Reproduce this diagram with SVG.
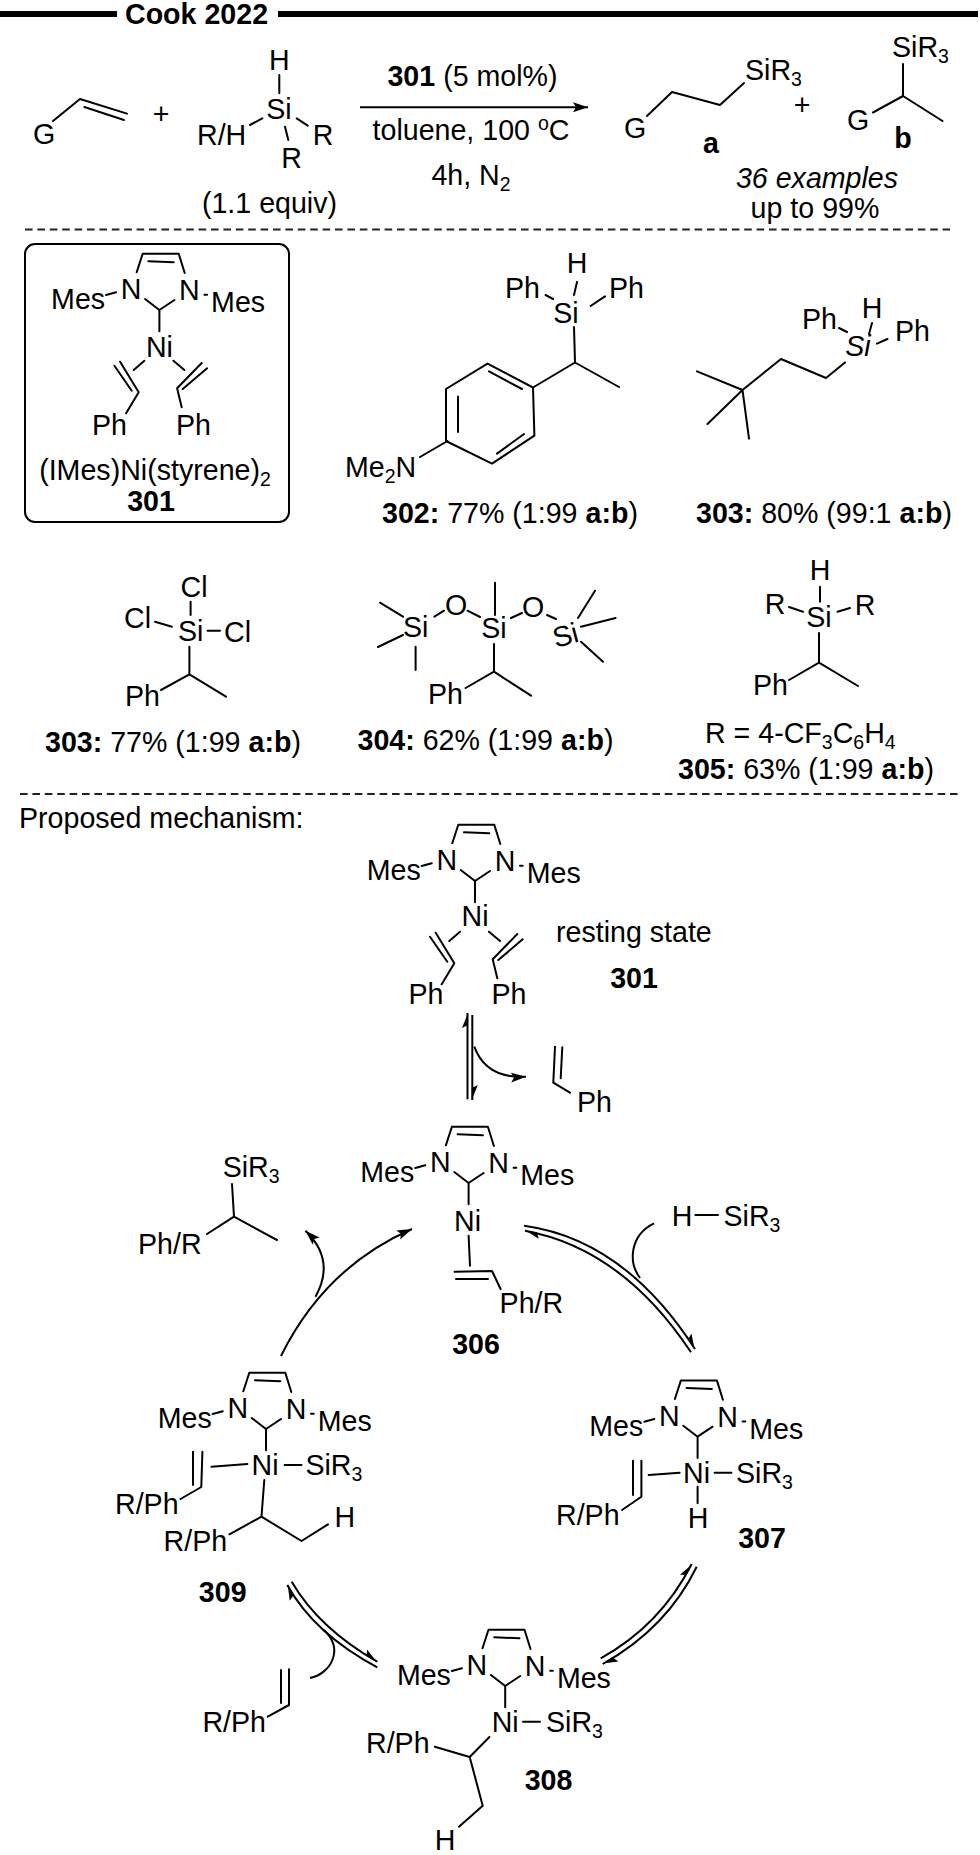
<svg xmlns="http://www.w3.org/2000/svg" width="980" height="1855" viewBox="0 0 980 1855">
<style>
text{font-family:"Liberation Sans",Arial,sans-serif;font-size:28.6px;fill:#000}
.b{font-weight:bold}
.i{font-style:italic}
.m{text-anchor:middle}
.s{font-size:19.5px}
.bond{fill:none;stroke:#000;stroke-width:2;stroke-linecap:round;stroke-linejoin:round}
.rule{stroke:#000;stroke-width:6;fill:none}
.dash{stroke:#222;stroke-width:1.8;stroke-dasharray:7.6 4.8;fill:none}
.arr{fill:none;stroke:#000;stroke-width:2}
</style>
<defs>
<path id="nhc" class="bond" d="M-22.7,-37.7L-16.7,-56.3H19.3L25.3,-37M-11,-48.7L14.3,-47.7M-14.3,-11L0,0L15,-10M0,0V21.3M-53.3,-15L-43.3,-17.7M45,-15.3H47.7"/>
<path id="bis" class="bond" d="M-15,50.7L-25.7,60M-39.3,51.7L-20.7,82.3L-33.3,103.3M-45,55.7L-27.7,80.7M14,50.7L25,60M42.3,53L17.7,78.3L22.3,97.3M47.7,58.3L23.3,79"/>
<marker id="full" markerUnits="userSpaceOnUse" markerWidth="16" markerHeight="14" refX="15" refY="7" orient="auto"><path d="M0,2L15,7L0,12L3,7z"/></marker>
<marker id="half" markerUnits="userSpaceOnUse" markerWidth="16" markerHeight="14" refX="15" refY="7" orient="auto"><path d="M0,1.5L15,7.5H3z"/></marker>
</defs>

<g id="header">
<path class="rule" d="M0,14H117M278,14H978"/>
<text class="b" x="125" y="24">Cook 2022</text>
</g>

<g id="reaction">
<g id="alkene"><path class="bond" d="M53,121L80,99L127,113.6M84.4,107L124,120"/><text class="m" x="44" y="144">G</text></g>
<text id="plus1" class="m" x="161" y="124">+</text>
<g id="silane">
<path class="bond" d="M279.3,75V93.3M250,125L262.3,118.3M296.7,118.3L307.7,125.7M285,126.7L288.3,140"/>
<text class="m" x="279.3" y="70">H</text><text class="m" x="279" y="119">Si</text>
<text x="197" y="145">R/H</text><text class="m" x="323" y="145">R</text><text class="m" x="291.7" y="168">R</text>
<text class="m" x="269.5" y="213">(1.1 equiv)</text>
</g>
<g id="conditions">
<text class="m" x="472.5" y="86"><tspan class="b">301</tspan> (5 mol%)</text>
<text class="m" x="471" y="140">toluene, 100 <tspan class="s" dy="-10">o</tspan><tspan dy="10">C</tspan></text>
<text class="m" x="471" y="185">4h, N<tspan class="s" dy="6">2</tspan></text>
</g>
<g id="product-a"><path class="bond" d="M647,116L672,92L720,105L744,83"/><text class="m" x="635" y="138">G</text>
<text x="745" y="80">SiR<tspan class="s" dy="6">3</tspan></text><text class="b m" x="711" y="153">a</text></g>
<text id="plus2" class="m" x="802" y="115">+</text>
<g id="product-b"><path class="bond" d="M903,64V96M873,112.5L903,96L942.5,121"/><text x="892" y="57">SiR<tspan class="s" dy="6">3</tspan></text>
<text class="m" x="858" y="130">G</text><text class="b m" x="903" y="148">b</text></g>
<text class="i m" x="817" y="188">36 examples</text>
<text class="m" x="815" y="218">up to 99%</text>
</g>

<path id="sep1" class="dash" d="M25,229.5H950"/>

<g id="node-301-box">
<rect x="25" y="244" width="264" height="278" rx="10" fill="none" stroke="#000" stroke-width="2"/>
<g transform="translate(159.4,310)">
<use href="#nhc"/><use href="#bis"/>
<text class="m" x="-28.3" y="-11">N</text><text class="m" x="30" y="-10">N</text><text x="-108.3" y="-1">Mes</text><text x="51.7" y="2">Mes</text>
<text class="m" x="0" y="47">Ni</text><text class="m" x="-50" y="125">Ph</text><text class="m" x="34" y="125">Ph</text>
</g>
<text class="m" x="155" y="480">(IMes)Ni(styrene)<tspan class="s" dy="6">2</tspan></text>
<text class="b m" x="151" y="511">301</text>
</g>

<g id="node-302">
<path class="bond" d="M577,282L574,295M545.6,295L553,299M590.6,306L605,296.4M574,327L575,362.5L619,387M575,362.5L533,387.5L487.5,363.6L446,389V441L492,463.6L534.4,435.7L533,387.5M489,371.4L522,389M458,396.4V432M497,453.6L524,434M447.5,441L420,457"/>
<text class="m" x="577" y="273">H</text><text x="505" y="298">Ph</text><text x="609" y="298">Ph</text><text class="m" x="566" y="323">Si</text>
<text x="345" y="477">Me<tspan class="s" dy="6">2</tspan><tspan dy="-6">N</tspan></text>
<text x="382" y="523"><tspan class="b">302:</tspan> 77% (1:99 <tspan class="b">a:b</tspan>)</text>
</g>

<g id="node-303a">
<path class="bond" d="M872,323L869,334M839,328L847,332M877,343.6L887.5,339M845,362.5L826,378L781,359L742.5,390M697,371.4L742.5,390L707.5,424M742.5,390L749,438.6"/>
<text class="m" x="872" y="318">H</text><text x="802" y="329">Ph</text><text x="895" y="341">Ph</text><text class="i m" x="858" y="356">Si</text>
<text x="696" y="523"><tspan class="b">303:</tspan> 80% (99:1 <tspan class="b">a:b</tspan>)</text>
</g>

<g id="node-303b">
<path class="bond" d="M190.6,601.7V615M155,621.7L172,626.7M207.5,630.7H220M189.4,646.7V674.3L226,696.7M189.4,674.3L161,690"/>
<text class="m" x="194" y="597">Cl</text><text x="124" y="628">Cl</text><text class="m" x="190.6" y="641">Si</text><text x="224" y="642">Cl</text><text x="125" y="706">Ph</text>
<text x="45" y="752"><tspan class="b">303:</tspan> 77% (1:99 <tspan class="b">a:b</tspan>)</text>
</g>

<g id="node-304">
<path class="bond" d="M380,602.7L403,616.7M378,647L403,635M415.6,646.7V670M434.4,616.7L444,610.7M467.5,610.7L480,617M495,582.7V615M511,618L522,613M547,615L556,619M595,590.7L578,618M615.6,618L581,626.7M603,661.7L581,641.7M494,644V671.7L531,695.7M494,671.7L465.6,688"/>
<text class="m" x="415.6" y="637">Si</text><text class="m" x="494" y="638">Si</text><text class="m" transform="rotate(-15 565.6 636)" x="565.6" y="645">Si</text>
<text class="m" x="456" y="615">O</text><text class="m" x="533" y="617">O</text><text x="428" y="704">Ph</text>
<text x="357.5" y="750"><tspan class="b">304:</tspan> 62% (1:99 <tspan class="b">a:b</tspan>)</text>
</g>

<g id="node-305">
<path class="bond" d="M820,586.7V601.7M789,607L803,611.7M837.5,611.7L850,608M819,633V662.7L858,686M819,662.7L789,680"/>
<text class="m" x="820" y="580">H</text><text class="m" x="775" y="614">R</text><text class="m" x="819" y="627">Si</text><text class="m" x="865" y="615">R</text><text x="753" y="695">Ph</text>
<text x="705" y="743">R = 4-CF<tspan class="s" dy="6">3</tspan><tspan dy="-6">C</tspan><tspan class="s" dy="6">6</tspan><tspan dy="-6">H</tspan><tspan class="s" dy="6">4</tspan></text>
<text x="678" y="779"><tspan class="b">305:</tspan> 63% (1:99 <tspan class="b">a:b</tspan>)</text>
</g>

<path id="sep2" class="dash" d="M20,794H960"/>
<text id="mech-title" x="19" y="828">Proposed mechanism:</text>

<g id="node-301" transform="translate(475,881)">
<use href="#nhc"/><use href="#bis"/>
<text class="m" x="-28.3" y="-11">N</text><text class="m" x="30" y="-10">N</text><text x="-108.3" y="-1">Mes</text><text x="51.7" y="2">Mes</text>
<text class="m" x="0" y="45">Ni</text><text class="m" x="-49" y="123">Ph</text><text class="m" x="34" y="123">Ph</text>
<text x="81" y="61">resting state</text>
<text class="b m" x="159" y="107">301</text>
</g>

<g id="styrene-out"><path class="bond" d="M562.3,1047.3L560.7,1078.3M555,1046.7L553.3,1082.7L570,1092.7"/><text x="577" y="1112">Ph</text></g>

<g id="node-306" transform="translate(468.6,1183)">
<use href="#nhc"/>
<path class="bond" d="M0,52.7L1.4,82.7M-14,88.7L23.4,88L32,106M-12.6,96H19.4"/>
<text class="m" x="-28.3" y="-11">N</text><text class="m" x="30" y="-10">N</text><text x="-108.3" y="-1">Mes</text><text x="51.7" y="2">Mes</text>
<text class="m" x="-1" y="47.7">Ni</text><text x="31" y="130">Ph/R</text><text class="b m" x="7.4" y="171">306</text>
</g>

<g id="product-out"><path class="bond" d="M232,1184L234,1216.7L277,1240M234,1216.7L207,1234"/><text x="222.7" y="1177">SiR<tspan class="s" dy="6">3</tspan></text><text x="138" y="1254">Ph/R</text></g>

<g id="silane-in"><path class="bond" d="M695.4,1215H718"/><text class="m" x="682" y="1226">H</text><text x="723.5" y="1226">SiR<tspan class="s" dy="6">3</tspan></text></g>

<g id="node-307" transform="translate(697.6,1436.7)">
<use href="#nhc"/>
<path class="bond" d="M17,36H33.8M-48.9,38.3L-18,36M-64.6,24V58.3M-56.2,24V60L-75.6,73.3M0,50V66.6"/>
<text class="m" x="-28.3" y="-11">N</text><text class="m" x="30" y="-10">N</text><text x="-108.3" y="-1">Mes</text><text x="51.7" y="2">Mes</text>
<text class="m" x="-1" y="46.6">Ni</text><text x="38.4" y="46.6">SiR<tspan class="s" dy="6">3</tspan></text><text x="-141.6" y="88.3">R/Ph</text><text class="m" x="0.4" y="91.3">H</text><text class="b m" x="64.4" y="111.3">307</text>
</g>

<g id="node-309" transform="translate(266,1429)">
<use href="#nhc"/>
<path class="bond" d="M18.6,36H35.5M-54.6,37.7L-18.6,35M-73,22.7V56M-63.6,22.7L-64.7,58L-85.5,70M-1.7,51L-4.5,87.7L-36.6,105.3M-4.5,87.7L35.5,112L62,95.3"/>
<text class="m" x="-28.3" y="-11">N</text><text class="m" x="30" y="-10">N</text><text x="-108.3" y="-1">Mes</text><text x="51.7" y="2">Mes</text>
<text class="m" x="-1" y="46">Ni</text><text x="39.4" y="46">SiR<tspan class="s" dy="6">3</tspan></text><text x="-151" y="85">R/Ph</text><text class="m" x="78.8" y="97.7">H</text><text x="-102.4" y="122">R/Ph</text><text class="b m" x="-43.3" y="172.7">309</text>
</g>

<g id="node-308" transform="translate(505.2,1686)">
<use href="#nhc"/>
<path class="bond" d="M17.8,35.7H34.8M-15.8,51L-35.5,71L-70.4,60.7M-35.5,71L-22.5,119.7L-46.2,140.7"/>
<text class="m" x="-28.3" y="-11">N</text><text class="m" x="30" y="-10">N</text><text x="-108.3" y="-1">Mes</text><text x="51.7" y="2">Mes</text>
<text class="m" x="0" y="46">Ni</text><text x="40.8" y="46">SiR<tspan class="s" dy="6">3</tspan></text><text x="-139.2" y="67">R/Ph</text><text class="m" x="-60.2" y="164">H</text><text class="b m" x="43.3" y="104">308</text>
</g>

<g id="styrene-in"><path class="bond" d="M281,1670V1703M289,1669.3V1705L267.7,1716.7"/><text x="202.4" y="1732">R/Ph</text></g>

<g id="connectors">
<path class="arr" marker-end="url(#full)" d="M360,107.3H588"/>
<path class="arr" marker-end="url(#half)" d="M467.5,1099.3V1013"/>
<path class="arr" marker-end="url(#half)" d="M472.3,1015V1100"/>
<path class="arr" marker-end="url(#full)" d="M474.3,1046.7Q486,1079 526,1076.7"/>
<path class="arr" marker-end="url(#full)" d="M281,1356Q325,1267 412,1229"/>
<path class="arr" marker-end="url(#full)" d="M315.5,1296.7Q336,1260 305.4,1230.7"/>
<path class="arr" marker-end="url(#half)" d="M524,1225.7Q623.9,1239.2 695,1349"/>
<path class="arr" marker-end="url(#half)" d="M691,1352.3Q622,1248.5 525,1230.7"/>
<path class="arr" d="M654,1223.3C630,1235 628,1262 640,1278"/>
<path class="arr" marker-end="url(#half)" d="M696.7,1566.7Q666.9,1628 602.7,1664"/>
<path class="arr" marker-end="url(#half)" d="M600.7,1658.3Q660.4,1625.4 691.7,1564"/>
<path class="arr" marker-end="url(#half)" d="M291.7,1581.7Q318.9,1628.3 377.3,1661.7"/>
<path class="arr" marker-end="url(#half)" d="M377.3,1667.3Q314.3,1633.8 287.3,1585"/>
<path class="arr" d="M310,1678C330,1674 345,1650 324,1630"/>
</g>
</svg>
